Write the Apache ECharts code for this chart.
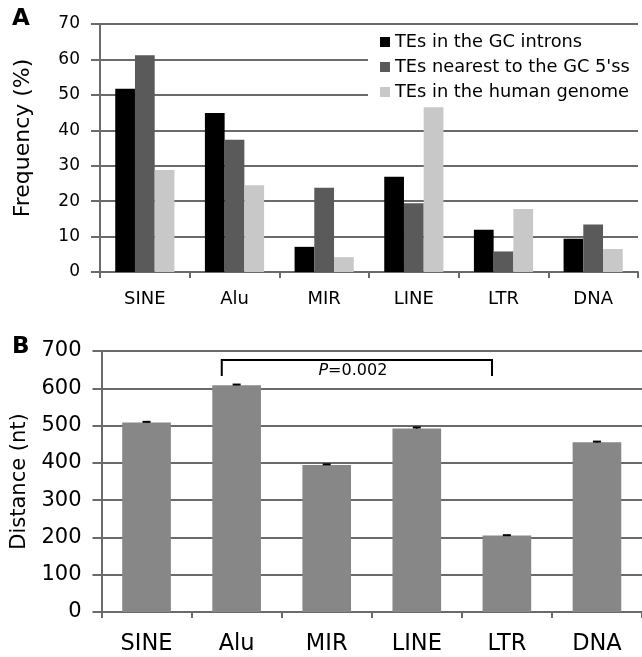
<!DOCTYPE html>
<html><head><meta charset="utf-8">
<script src="https://cdn.jsdelivr.net/npm/echarts@6/dist/echarts.min.js"></script>
<style>html,body{margin:0;padding:0;background:#fff}#c{width:642px;height:657px}</style>
</head><body><div id="c"></div>
<script>
const categories = ['SINE', 'Alu', 'MIR', 'LINE', 'LTR', 'DNA'];
const seriesNames = ['TEs in the GC introns', "TEs nearest to the GC 5'ss", 'TEs in the human genome'];
const gcIntrons = [51.7, 44.9, 7.1, 26.9, 11.9, 9.4];
const nearest5ss = [61.2, 37.3, 23.8, 19.4, 5.8, 13.4];
const humanGenome = [28.8, 24.5, 4.2, 46.5, 17.8, 6.5];
const distance = [508, 608, 394, 492, 205, 455];
const distanceErr = [2, 2, 2, 3, 1, 2];
const freqAxis = { min: 0, max: 70, interval: 10 };
const distAxis = { min: 0, max: 700, interval: 100 };
const bracketFrom = 1, bracketTo = 4, bracketTop = 676, bracketBottom = 633;
const pLabel = 'P';
const pValue = '=0.002';

const FONT = 'DejaVu Sans';
const GRID_COLOR = '#6a6a6a';
const colors = ['#000000', '#5a5a5a', '#c8c8c8'];

const chart = echarts.init(document.getElementById('c'), null, { renderer: 'canvas' });

function xAxisCfg(gridIndex, fontSize, margin) {
  return {
    type: 'category', gridIndex, data: categories,
    axisLine: { show: true, lineStyle: { color: GRID_COLOR, width: 2 } },
    axisTick: { show: true, length: 6, lineStyle: { color: GRID_COLOR, width: 2 } },
    axisLabel: { fontSize, color: '#000', margin, fontFamily: FONT },
    splitLine: { show: false }
  };
}
function yAxisCfg(gridIndex, ax, name, fontSize, nameSize, nameGap, namePad) {
  return {
    type: 'value', gridIndex, min: ax.min, max: ax.max, interval: ax.interval,
    name, nameLocation: 'middle', nameGap,
    nameTextStyle: { fontSize: nameSize, color: '#000', fontFamily: FONT, padding: namePad },
    axisLine: { show: true, lineStyle: { color: GRID_COLOR, width: 2 } },
    axisTick: { show: true, length: 9, lineStyle: { color: GRID_COLOR, width: 2 } },
    axisLabel: { fontSize, color: '#000', margin: 20, fontFamily: FONT },
    splitLine: { show: true, lineStyle: { color: GRID_COLOR, width: 2 } }
  };
}

const option = {
  animation: false,
  backgroundColor: '#fff',
  textStyle: { fontFamily: FONT },
  grid: [
    { left: 100, top: 24, width: 538, height: 248 },
    { left: 101.5, top: 351, width: 543, height: 261 }
  ],
  xAxis: [xAxisCfg(0, 18, 18), xAxisCfg(1, 22.5, 21)],
  yAxis: [
    yAxisCfg(0, freqAxis, 'Frequency (%)', 17, 22, 66, [0, 0, 0, 20]),
    yAxisCfg(1, distAxis, 'Distance (nt)', 21, 21, 67, 0)
  ],
  legend: {
    data: seriesNames, orient: 'vertical', left: 368, top: 29,
    itemWidth: 10, itemHeight: 10, itemGap: 7, icon: 'rect',
    padding: [4, 14, 4, 12], backgroundColor: '#fff',
    textStyle: { fontSize: 17.8, color: '#000', fontFamily: FONT, lineHeight: 18 }
  },
  graphic: [
    { type: 'text', left: 12, top: 8, style: { text: 'A', fontSize: 23, fontWeight: 'bold', fontFamily: FONT, fill: '#000' } },
    { type: 'text', left: 12, top: 336, style: { text: 'B', fontSize: 23, fontWeight: 'bold', fontFamily: FONT, fill: '#000' } }
  ],
  series: [
    { name: seriesNames[0], type: 'bar', xAxisIndex: 0, yAxisIndex: 0, data: gcIntrons,
      itemStyle: { color: colors[0] }, barGap: '0%', barCategoryGap: '34%' },
    { name: seriesNames[1], type: 'bar', xAxisIndex: 0, yAxisIndex: 0, data: nearest5ss,
      itemStyle: { color: colors[1] }, barGap: '0%', barCategoryGap: '34%' },
    { name: seriesNames[2], type: 'bar', xAxisIndex: 0, yAxisIndex: 0, data: humanGenome,
      itemStyle: { color: colors[2] }, barGap: '0%', barCategoryGap: '34%' },
    { name: 'Distance', type: 'bar', xAxisIndex: 1, yAxisIndex: 1, data: distance,
      itemStyle: { color: '#878787' }, barCategoryGap: '46%' },
    { name: 'err', type: 'custom', xAxisIndex: 1, yAxisIndex: 1, z: 5,
      data: distance.map((v, i) => [i, v, v + distanceErr[i]]),
      encode: { x: 0, y: [1, 2] },
      renderItem: function (params, api) {
        const i = api.value(0);
        const a = api.coord([i, api.value(1)]);
        const b = api.coord([i, api.value(2)]);
        return { type: 'group', children: [
          { type: 'line', shape: { x1: a[0], y1: a[1], x2: b[0], y2: b[1] }, style: { stroke: '#000', lineWidth: 2 } },
          { type: 'line', shape: { x1: b[0] - 4, y1: b[1], x2: b[0] + 4, y2: b[1] }, style: { stroke: '#000', lineWidth: 2 } }
        ] };
      }
    },
    { name: 'bracket', type: 'custom', xAxisIndex: 1, yAxisIndex: 1, z: 6,
      data: [[bracketFrom, bracketTo, bracketTop, bracketBottom]],
      encode: { x: [0, 1], y: [2, 3] },
      renderItem: function (params, api) {
        const band = api.size([1, 0])[0];
        const off = -0.165 * band;
        const l = api.coord([api.value(0), api.value(2)]);
        const r = api.coord([api.value(1), api.value(2)]);
        const bot = api.coord([api.value(0), api.value(3)]);
        const x1 = l[0] + off, x2 = r[0] + off, yt = l[1], yb = bot[1];
        return { type: 'group', children: [
          { type: 'polyline', shape: { points: [[x1, yb], [x1, yt], [x2, yt], [x2, yb]] },
            style: { stroke: '#000', lineWidth: 2, fill: null } },
          { type: 'text', x: (x1 + x2) / 2 - 4, y: yt + 3,
            style: { text: '{i|' + pLabel + '}' + pValue, fontSize: 16, fontFamily: FONT, fill: '#000',
              align: 'center', verticalAlign: 'top',
              rich: { i: { fontStyle: 'italic', fontSize: 16, fontFamily: FONT, fill: '#000' } } } }
        ] };
      }
    }
  ]
};
chart.setOption(option);
</script>
</body></html>
